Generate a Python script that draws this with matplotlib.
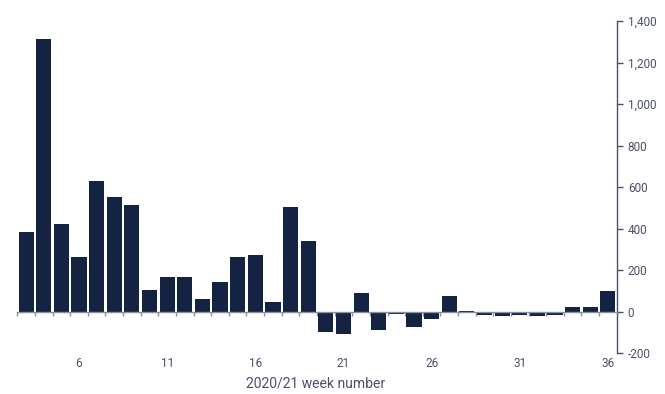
import matplotlib
matplotlib.use('Agg')
import matplotlib.pyplot as plt
from matplotlib.ticker import FuncFormatter, FixedLocator
import numpy as np

weeks = list(range(3, 37))
values = [382, 1315, 422, 262, 629, 550, 512, 104, 164, 164, 61, 144, 263, 271,
          48, 502, 339, -99, -107, 88, -91, -13, -74, -38, 74, 2, -17, -20,
          -16, -22, -18, 24, 22, 100]
label_weeks = [6, 11, 16, 21, 26, 31, 36]

BAR = '#152342'
TEXT = '#4a5068'

plt.rcParams['font.family'] = ['Roboto', 'DejaVu Sans']

fig = plt.figure(figsize=(6.65, 3.94), dpi=100)
ax = fig.add_axes([0.026, 0.104, 0.9014, 0.8427])

ax.bar(weeks, values, width=0.86, color=BAR, edgecolor='none', zorder=2)

ax.set_xlim(weeks[0] - 0.5, weeks[-1] + 0.5)
ax.set_ylim(-200, 1400)

# y axis on the right
for s in ['top', 'left']:
    ax.spines[s].set_visible(False)
ax.spines['right'].set_color(TEXT)
ax.spines['right'].set_linewidth(1.0)
ax.yaxis.tick_right()
ax.set_yticks(np.arange(-200, 1401, 200))
ax.yaxis.set_major_formatter(FuncFormatter(lambda v, p: f'{int(v):,}'))
ax.tick_params(axis='y', colors=TEXT, labelsize=8.5, length=4, width=1.0, pad=4)

# zero line with boundary ticks, week labels at bottom
ax.spines['bottom'].set_position(('data', 0))
ax.spines['bottom'].set_color('#8a90a2')
ax.spines['bottom'].set_linewidth(1.0)
ax.xaxis.set_minor_locator(FixedLocator(np.arange(weeks[0] - 0.5, weeks[-1] + 0.5, 1.0)))
ax.set_xticks(label_weeks)
ax.tick_params(axis='x', which='major', length=0, colors=TEXT, labelsize=8.5, pad=33)
ax.tick_params(axis='x', which='minor', length=3, width=1.0, color='#8a90a2')

fig.text(0.475, 0.008, '2020/21 week number', ha='center', va='bottom',
         color=TEXT, fontsize=10)

fig.savefig('out.png', dpi=100)
